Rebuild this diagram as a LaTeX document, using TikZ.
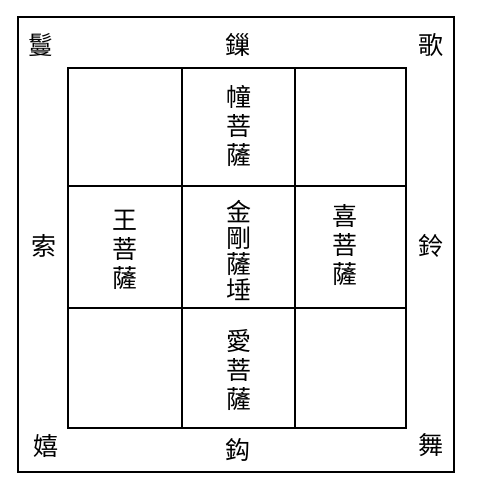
\documentclass[tikz,border=0pt]{standalone}
\usepackage{fontspec}
\newfontfamily\cjk{Noto Sans CJK TC}
\begin{document}
\begin{tikzpicture}[x=1pt, y=-1pt]
    \useasboundingbox (0,0) rectangle (482,493);
    \draw [line width=1.2pt] (18,17) rectangle (454,472);
    \draw [line width=1.6pt] (68,68) rectangle (406,428);
    \foreach \x in {182,295}
      \draw [line width=1.4pt] (\x,68) -- (\x,428);
    \foreach \y in {186,308}
      \draw [line width=1.4pt] (68,\y) -- (406,\y);

    \begin{scope}[every node/.style={font=\cjk\fontsize{25}{29}\selectfont, align=center, inner sep=0pt}]
      \node (man) at (41,45) {鬘};
      \node (sa) at (238,45) {鏁};
      \node (ka) at (431,45) {歌};
      \node (saku) at (44,246) {索};
      \node (rei) at (431,246) {鈴};
      \node (ki) at (46,446) {嬉};
      \node (ko) at (238,450) {鈎};
      \node (bu) at (431,445) {舞};

      \node (dou) at (239,126) {幢\\菩\\薩};
      \node (ou) at (125,250) {王\\菩\\薩};
      \node (kongo) at (239,250) [font=\cjk\fontsize{25}{26}\selectfont] {金\\剛\\薩\\埵};
      \node (kiB) at (345,245) {喜\\菩\\薩};
      \node (ai) at (239,370) {愛\\菩\\薩};
    \end{scope}
\end{tikzpicture}
\end{document}
